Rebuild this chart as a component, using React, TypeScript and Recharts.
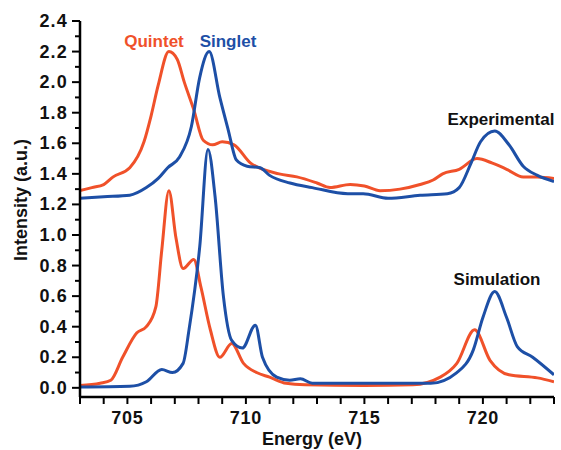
import { LineChart, Line, XAxis, YAxis } from 'recharts'

// experimental spectra
const quintetExpE = [703, 703.5, 704, 704.4, 705.1, 705.7, 706.0, 706.3, 706.75, 707.1, 707.4, 707.8, 708.2, 708.6, 709.0, 709.5, 710.2, 711.4, 712.15, 713.0, 713.55, 714.4, 715.0, 715.66, 716.5, 717.35, 717.9, 718.3, 719.0, 719.75, 720.4, 721.0, 721.7, 722.3, 723]
const quintetExpI = [1.29, 1.31, 1.33, 1.38, 1.44, 1.61, 1.78, 1.98, 2.2, 2.15, 2.0, 1.82, 1.62, 1.59, 1.61, 1.59, 1.47, 1.4, 1.38, 1.34, 1.31, 1.33, 1.32, 1.29, 1.3, 1.33, 1.36, 1.4, 1.43, 1.5, 1.47, 1.43, 1.38, 1.38, 1.37]
const singletExpE = [703, 704, 705.1, 705.8, 706.3, 706.7, 707.2, 707.7, 708.05, 708.45, 708.9, 709.25, 709.6, 710.05, 710.6, 711.0, 711.86, 712.8, 714.3, 714.95, 716.0, 717.35, 718.5, 719.0, 719.5, 719.9, 720.5, 721.1, 721.7, 722.3, 723]
const singletExpI = [1.24, 1.25, 1.26, 1.31, 1.37, 1.44, 1.51, 1.71, 2.03, 2.2, 1.9, 1.69, 1.49, 1.45, 1.44, 1.39, 1.34, 1.31, 1.27, 1.27, 1.24, 1.26, 1.27, 1.31, 1.47, 1.61, 1.68, 1.59, 1.45, 1.39, 1.35]

// simulated spectra
const quintetSimE = [703, 703.85, 704.3, 704.8, 705.4, 705.8, 706.2, 706.45, 706.75, 707.05, 707.35, 707.8, 708.1, 708.5, 708.9, 709.4, 709.9, 710.45, 711.0, 711.7, 712.5, 715, 717.05, 718.2, 718.9, 719.65, 720.3, 721.1, 722.3, 723]
const quintetSimI = [0.015, 0.03, 0.05, 0.2, 0.36, 0.4, 0.53, 0.9, 1.29, 0.98, 0.78, 0.84, 0.66, 0.38, 0.2, 0.29, 0.16, 0.1, 0.07, 0.03, 0.02, 0.015, 0.02, 0.07, 0.16, 0.38, 0.18, 0.085, 0.065, 0.04]
const singletSimE = [703, 705.1, 705.8, 706.45, 706.9, 707.35, 707.6, 708.05, 708.4, 708.7, 709.05, 709.4, 709.85, 710.4, 710.7, 711.3, 711.85, 712.3, 712.8, 715, 717.8, 718.9, 719.6, 720.0, 720.5, 721.0, 721.45, 722.1, 723]
const singletSimI = [0.005, 0.01, 0.04, 0.12, 0.1, 0.16, 0.38, 0.92, 1.56, 1.25, 0.6, 0.31, 0.26, 0.41, 0.2, 0.07, 0.05, 0.06, 0.03, 0.03, 0.03, 0.1, 0.25, 0.46, 0.63, 0.46, 0.27, 0.2, 0.085]

const xTicks = [703, 704, 705, 706, 707, 708, 709, 710, 711, 712, 713, 714, 715, 716, 717, 718, 719, 720, 721, 722, 723]
const yTicks = [0, 0.1, 0.2, 0.3, 0.4, 0.5, 0.6, 0.7, 0.8, 0.9, 1.0, 1.1, 1.2, 1.3, 1.4, 1.5, 1.6, 1.7, 1.8, 1.9, 2.0, 2.1, 2.2, 2.3, 2.4]

const ORANGE = '#f0512a'
const BLUE = '#1d4fa6'
const FONT = '"Liberation Sans", Arial, sans-serif'

const zip = (e: number[], i: number[]) => e.map((x, k) => ({ x, y: i[k] }))

const YTick = (props: any) => {
  const { x, y, payload } = props
  const v = payload.value
  const major = Math.round(v * 10) % 2 === 0
  return (
    <g>
      <line x1={x} x2={x - (major ? 8 : 5)} y1={y} y2={y} stroke="#000" strokeWidth={2} />
      {major && (
        <text x={x - 12} y={y + 6} textAnchor="end" fontSize={18} fontWeight="bold" fontFamily={FONT} fill="#111" letterSpacing={1.2}>
          {v.toFixed(1)}
        </text>
      )}
    </g>
  )
}

const XTick = (props: any) => {
  const { x, y, payload } = props
  const v = payload.value
  const major = v % 5 === 0
  return (
    <g>
      <line x1={x} x2={x} y1={y} y2={y + 7} stroke="#000" strokeWidth={2} />
      {major && (
        <text x={x} y={y + 27} textAnchor="middle" fontSize={18} fontWeight="bold" fontFamily={FONT} fill="#111" letterSpacing={0.8}>
          {v}
        </text>
      )}
    </g>
  )
}

export default function App() {
  return (
    <div style={{ position: 'absolute', left: 0, top: 0, width: 561, height: 450, background: '#fff' }}>
      <LineChart width={561} height={450} margin={{ top: 21, right: 7, bottom: 0, left: 0 }}>
        <XAxis
          type="number"
          dataKey="x"
          domain={[703, 723]}
          ticks={xTicks}
          allowDataOverflow
          interval={0}
          tickSize={0}
          tickMargin={0}
          tickLine={false}
          tick={<XTick />}
          axisLine={{ stroke: '#000', strokeWidth: 2.5 }}
          height={53}
        />
        <YAxis
          type="number"
          domain={[-0.06, 2.4]}
          ticks={yTicks}
          allowDataOverflow
          interval={0}
          tickSize={0}
          tickMargin={0}
          tickLine={false}
          tick={<YTick />}
          axisLine={{ stroke: '#000', strokeWidth: 2.5 }}
          width={80}
        />
        <Line data={zip(quintetExpE, quintetExpI)} dataKey="y" type="monotone" stroke={ORANGE} strokeWidth={3} dot={false} isAnimationActive={false} />
        <Line data={zip(singletExpE, singletExpI)} dataKey="y" type="monotone" stroke={BLUE} strokeWidth={3} dot={false} isAnimationActive={false} />
        <Line data={zip(quintetSimE, quintetSimI)} dataKey="y" type="monotone" stroke={ORANGE} strokeWidth={3} dot={false} isAnimationActive={false} />
        <Line data={zip(singletSimE, singletSimI)} dataKey="y" type="monotone" stroke={BLUE} strokeWidth={3} dot={false} isAnimationActive={false} />
      </LineChart>
      <svg width={561} height={450} style={{ position: 'absolute', left: 0, top: 0, pointerEvents: 'none' }}>
        <g fontFamily={FONT} fontWeight="bold" fontSize={17}>
          <text x={154} y={47} textAnchor="middle" fill={ORANGE}>Quintet</text>
          <text x={228} y={47} textAnchor="middle" fill={BLUE}>Singlet</text>
          <text x={501} y={125} textAnchor="middle" fill="#111">Experimental</text>
          <text x={497} y={285} textAnchor="middle" fill="#111">Simulation</text>
          <text x={312} y={445} textAnchor="middle" fill="#111" fontSize={18}>Energy (eV)</text>
          <text transform="translate(27,200) rotate(-90)" textAnchor="middle" fill="#111" fontSize={18}>Intensity (a.u.)</text>
        </g>
      </svg>
    </div>
  )
}
